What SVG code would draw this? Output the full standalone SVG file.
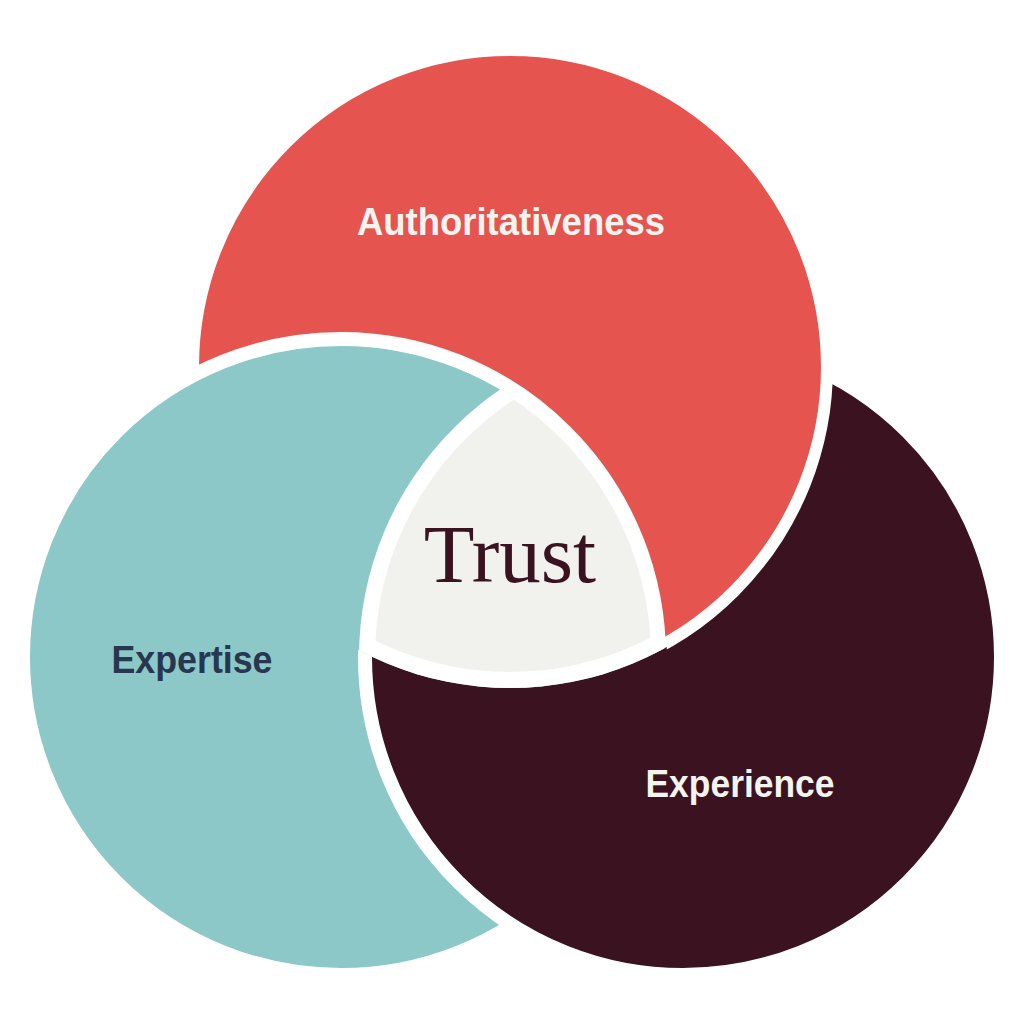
<svg xmlns="http://www.w3.org/2000/svg" width="1024" height="1024" viewBox="0 0 1024 1024">
<style>
.lbl{font-family:"Liberation Sans",Arial,sans-serif;font-weight:700;font-size:38px;text-anchor:middle}
.light{fill:#f4f4ef}
.navy{fill:#27374f}
.ring{stroke:#ffffff}
.trust{font-family:"Liberation Serif","Times New Roman",serif;font-size:83px;text-anchor:middle;fill:#3a1220}
</style>
<defs>
<circle id="darkCircle" cx="683" cy="657" r="318" fill="#3a1220" stroke="#ffffff" stroke-width="14"/>
<mask id="darkOverTeal" maskUnits="userSpaceOnUse" x="0" y="0" width="1024" height="1024">
<circle cx="341" cy="657" r="326" fill="#ffffff"/>
<circle cx="510" cy="367" r="321" fill="#000000"/>
</mask>
<clipPath id="uTeal"><circle cx="341" cy="657" r="324"/></clipPath>
<clipPath id="uDark"><circle cx="683" cy="657" r="324"/></clipPath>
<clipPath id="uRed"><circle cx="510" cy="367" r="321"/></clipPath>
<clipPath id="tTeal"><circle cx="341" cy="657" r="310"/></clipPath>
<clipPath id="tDark"><circle cx="683" cy="657" r="308"/></clipPath>
<clipPath id="tRed"><circle cx="510" cy="367" r="305"/></clipPath>
</defs>
<rect width="1024" height="1024" fill="#ffffff"/>
<g id="node-experience">
<use href="#darkCircle"/>
<text class="lbl light" x="740" y="797" textLength="189" lengthAdjust="spacingAndGlyphs">Experience</text>
</g>
<g id="node-authoritativeness">
<circle class="ring" cx="510" cy="367" r="317" fill="#e6544f" stroke-width="12"/>
<text class="lbl light" x="511" y="235" textLength="308" lengthAdjust="spacingAndGlyphs">Authoritativeness</text>
</g>
<g id="node-expertise">
<circle class="ring" cx="341" cy="657" r="318" fill="#8dc8c8" stroke-width="14"/>
<text class="lbl navy" x="192" y="673" textLength="161" lengthAdjust="spacingAndGlyphs">Expertise</text>
</g>
<g id="overlap-experience-over-expertise" mask="url(#darkOverTeal)">
<use href="#darkCircle"/>
</g>
<g id="node-trust">
<g clip-path="url(#uTeal)"><g clip-path="url(#uDark)"><g clip-path="url(#uRed)">
<rect x="300" y="300" width="440" height="440" fill="#ffffff"/>
</g></g></g>
<g clip-path="url(#tTeal)"><g clip-path="url(#tDark)"><g clip-path="url(#tRed)">
<rect x="300" y="300" width="440" height="440" fill="#f1f2ee"/>
</g></g></g>
<text class="trust" x="510" y="582">Trust</text>
</g>
<g id="connectors"/>
</svg>
